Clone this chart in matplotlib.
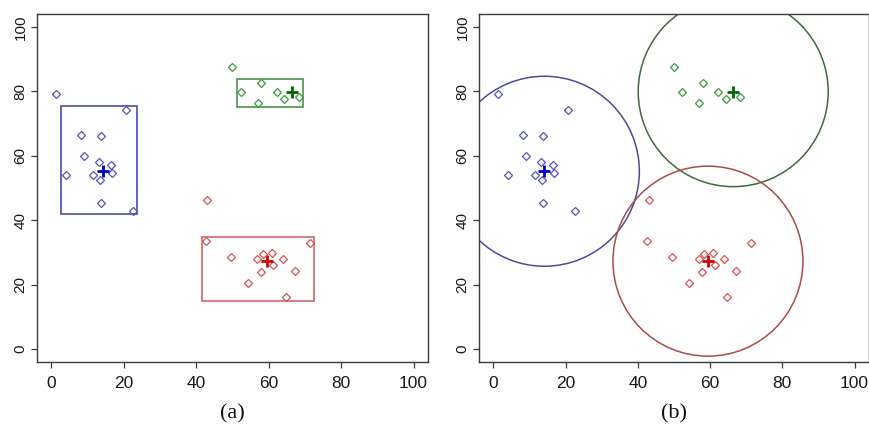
"""
Two-panel cluster figure: (a) bounding rectangles, (b) fixed-radius circles
around the cluster centres.
"""
import matplotlib
matplotlib.use("Agg")
import matplotlib.pyplot as plt
from matplotlib.patches import Rectangle, Ellipse

# ── data ─────────────────────────────────────────────────────────────────────
blue_x = [1.2, 20.6, 8.1, 13.6, 9.1, 13.1, 16.4, 3.9, 11.4, 16.8, 13.4, 13.6, 22.6]
blue_y = [79.2, 74.2, 66.5, 66.2, 60.0, 58.0, 57.0, 54.1, 54.1, 54.6, 52.6, 45.3, 43.0]

green_x = [49.9, 52.3, 57.9, 57.0, 62.2, 64.3, 68.4]
green_y = [87.6, 79.9, 82.5, 76.5, 79.9, 77.7, 78.1]

red_x = [43.0, 42.6, 49.5, 54.2, 56.9, 58.3, 57.8, 60.8, 61.3, 63.9, 67.3, 64.8, 71.4]
red_y = [46.3, 33.5, 28.7, 20.6, 28.0, 29.4, 23.8, 29.9, 26.1, 27.9, 24.3, 16.3, 33.0]

# cluster centres (x, y)
centre_blue = (14.1, 55.2)
centre_green = (66.4, 79.9)
centre_red = (59.4, 27.3)

# rectangles: (xmin, xmax, ymin, ymax)
rect_blue = (2.6, 23.7, 41.8, 75.5)
rect_green = (51.3, 69.4, 75.0, 83.9)
rect_red = (41.7, 72.6, 15.0, 34.7)

ticks = [0, 20, 40, 60, 80, 100]
panel_labels = ["(a)", "(b)"]

# ── styles ───────────────────────────────────────────────────────────────────
PT_COL = {"blue": "#5555b5", "green": "#3f9a3f", "red": "#d45555"}
CTR_COL = {"blue": "#0000c0", "green": "#006400", "red": "#d00000"}
RECT_COL = {"blue": "#3c3ca8", "green": "#3a8a3a", "red": "#d05a5a"}
CIRC_COL = {"blue": "#4c4c96", "green": "#3f6a3f", "red": "#a84c4c"}
CIRCLE_RADIUS_PX = 95
FRAME = "#3a3a3a"

W, H = 870, 428
fig = plt.figure(figsize=(W / 100, H / 100), dpi=100)
ax_a = fig.add_axes([37 / W, 1 - 362 / H, 391 / W, 348 / H])
ax_b = fig.add_axes([479 / W, 1 - 362 / H, 390 / W, 348 / H])

clusters = [
    ("blue", blue_x, blue_y, centre_blue, rect_blue),
    ("green", green_x, green_y, centre_green, rect_green),
    ("red", red_x, red_y, centre_red, rect_red),
]


def _setup(ax):
    ax.set_xlim(-4, 104)
    ax.set_ylim(-4, 104)
    ax.set_xticks(ticks)
    ax.set_yticks(ticks)
    ax.set_xticklabels([str(t) for t in ticks], fontsize=12.5, family="Liberation Sans")
    ax.set_yticklabels([str(t) for t in ticks], fontsize=11, family="Liberation Sans",
                       rotation=90, va="center")
    ax.tick_params(axis="both", length=4.3, width=0.9, color=FRAME, labelcolor="#1a1a1a")
    ax.tick_params(axis="x", pad=6)
    ax.tick_params(axis="y", pad=2.5)
    for sp in ax.spines.values():
        sp.set_color(FRAME)
        sp.set_linewidth(1.0)


def _points(ax, name, xs, ys, ctr):
    ax.plot(xs, ys, ls="none", marker="D", ms=4.3, mfc="none",
            mec=PT_COL[name], mew=0.9, zorder=3)
    ax.plot([ctr[0]], [ctr[1]], ls="none", marker="+", ms=8, mew=2.0,
            color=CTR_COL[name], zorder=4)


# ── (a) rectangles ───────────────────────────────────────────────────────────
_setup(ax_a)
for name, xs, ys, ctr, r in clusters:
    ax_a.add_patch(Rectangle((r[0], r[2]), r[1] - r[0], r[3] - r[2], fill=False,
                             ec=RECT_COL[name], lw=1.1, zorder=2))
    _points(ax_a, name, xs, ys, ctr)

# ── (b) circles (same size on screen, so an ellipse in data units) ───────────
_setup(ax_b)
pos = ax_b.get_position()
rx = CIRCLE_RADIUS_PX * 108 / (pos.width * W)
ry = CIRCLE_RADIUS_PX * 108 / (pos.height * H)
for name, xs, ys, ctr, r in clusters:
    ax_b.add_patch(Ellipse(ctr, 2 * rx, 2 * ry, fill=False, ec=CIRC_COL[name],
                           lw=1.1, zorder=2))
    _points(ax_b, name, xs, ys, ctr)

# panel captions
for ax, lab in zip([ax_a, ax_b], panel_labels):
    p = ax.get_position()
    fig.text(p.x0 + p.width / 2, 1 - 414 / H, lab, ha="center", va="center",
             fontsize=16, family="Liberation Serif", color="#111111")

fig.savefig("out.png", dpi=100)
